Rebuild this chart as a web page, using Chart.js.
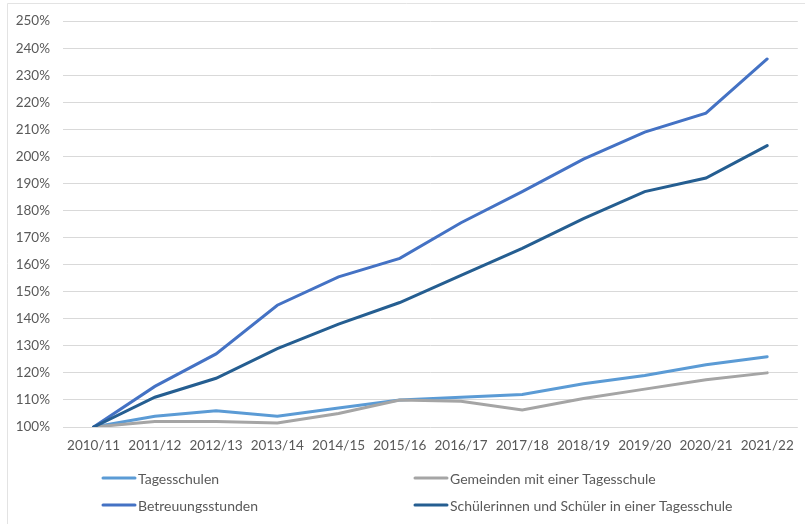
<!DOCTYPE html>
<html lang="de">
  <head>
    <meta charset="utf-8" />
    <title>Tagesschulen Entwicklung</title>
    <style>
      * {
        margin: 0;
        padding: 0;
      }
      body {
        background: #fff;
      }
    </style>
  </head>
  <body>
    <canvas id="myChart" width="805" height="524"></canvas>

    <script src="https://cdn.jsdelivr.net/npm/chart.js@4.4.0/dist/chart.umd.min.js"></script>

    <script>
      const years = [
        "2010/11", "2011/12", "2012/13", "2013/14", "2014/15", "2015/16",
        "2016/17", "2017/18", "2018/19", "2019/20", "2020/21", "2021/22",
      ];
      const tagesschulen = [100, 104, 106, 104, 107, 110, 111, 112, 116, 119, 123, 126];
      const gemeinden = [100, 102, 102, 101.5, 105, 110, 109.5, 106.3, 110.5, 114, 117.5, 120];
      const betreuung = [100, 115, 127, 145, 155.5, 162.3, 175.5, 187, 199, 209, 216, 236];
      const schueler = [100, 111, 118, 129, 138, 146, 156, 166, 177, 187, 192, 204];

      const seriesNames = [
        "Tagesschulen",
        "Gemeinden mit einer Tagesschule",
        "Betreuungsstunden",
        "Schülerinnen und Schüler in einer Tagesschule",
      ];
      const seriesColors = ["#5b9bd5", "#a5a5a5", "#4472c4", "#255e91"];
      const seriesData = [tagesschulen, gemeinden, betreuung, schueler];

      const textColor = "#595959";
      const fontFamily = "Lato, 'Open Sans', sans-serif";

      // legend in two columns plus the thin frame on top/left
      const excelLegend = {
        id: "excelLegend",
        afterDraw(chart) {
          const { ctx } = chart;
          ctx.save();
          ctx.strokeStyle = "#e3e3e3";
          ctx.lineWidth = 1;
          ctx.beginPath();
          ctx.moveTo(7.5, 524);
          ctx.lineTo(7.5, 3.5);
          ctx.lineTo(805, 3.5);
          ctx.stroke();

          const spots = [
            { x: 103, y: 478 },
            { x: 415, y: 478 },
            { x: 103, y: 505 },
            { x: 415, y: 505 },
          ];
          ctx.font = "14px " + fontFamily;
          ctx.textBaseline = "middle";
          ctx.textAlign = "left";
          seriesNames.forEach((name, i) => {
            const p = spots[i];
            ctx.strokeStyle = seriesColors[i];
            ctx.lineWidth = 3;
            ctx.lineCap = "round";
            ctx.beginPath();
            ctx.moveTo(p.x, p.y);
            ctx.lineTo(p.x + 32, p.y);
            ctx.stroke();
            ctx.fillStyle = textColor;
            ctx.fillText(name, p.x + 35, p.y + 1);
          });
          ctx.restore();
        },
      };

      const config = {
        type: "line",
        data: {
          labels: years,
          datasets: seriesData.map((vals, i) => ({
            label: seriesNames[i],
            data: vals,
            borderColor: seriesColors[i],
            backgroundColor: seriesColors[i],
            borderWidth: 3,
            pointRadius: 0,
            tension: 0,
            borderCapStyle: "round",
            order: 3 - i,
          })),
        },
        options: {
          responsive: false,
          animation: false,
          layout: {
            padding: { top: 21, right: 7, bottom: 0, left: 0 },
          },
          plugins: {
            legend: { display: false },
            tooltip: { enabled: false },
          },
          scales: {
            x: {
              offset: true,
              grid: { display: false, drawTicks: false },
              border: { display: false },
              ticks: {
                color: textColor,
                font: { family: fontFamily, size: 13.5 },
                padding: 11,
                maxRotation: 0,
                autoSkip: false,
              },
              afterFit(scale) {
                scale.height = 97;
              },
            },
            y: {
              min: 100,
              max: 250,
              grid: { color: "#d9d9d9", lineWidth: 1, drawTicks: false },
              border: { display: false },
              ticks: {
                stepSize: 10,
                color: textColor,
                font: { family: fontFamily, size: 13.5 },
                padding: 13,
                callback: (v) => v + "%",
              },
              afterFit(scale) {
                scale.width = 63;
              },
            },
          },
        },
        plugins: [excelLegend],
      };

      const myChart = new Chart(document.getElementById("myChart"), config);
    </script>
  </body>
</html>
